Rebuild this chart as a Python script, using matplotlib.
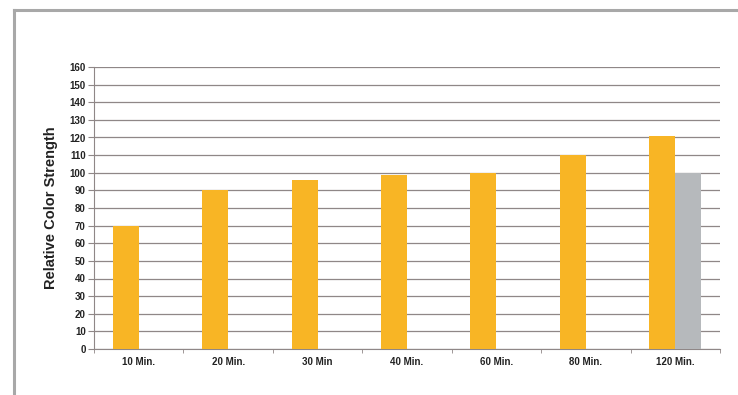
import matplotlib.pyplot as plt
from matplotlib.lines import Line2D
import numpy as np

plt.rcParams['font.family'] = ['Liberation Sans', 'DejaVu Sans']

categories = ["10 Min.", "20 Min.", "30 Min", "40 Min.", "60 Min.", "80 Min.", "120 Min."]
orange_vals = [70, 90, 96, 99, 100, 110, 121]
gray_vals = [0, 0, 0, 0, 0, 0, 100]
y_ticks = list(range(0, 161, 10))

W, H = 738, 395
fig = plt.figure(figsize=(W / 100, H / 100), dpi=100)

# outer gray frame (top and left edges only visible)
fig.add_artist(Line2D([14 / W, 1], [1 - 10 / H, 1 - 10 / H], color="#a8a8a8", lw=2.2))
fig.add_artist(Line2D([14 / W, 14 / W], [0, 1 - 10 / H], color="#a8a8a8", lw=2.2))

ax = fig.add_axes([94 / W, 1 - 349 / H, (720 - 94) / W, (349 - 67) / H])

x = np.arange(len(categories))
bw = 0.29
ax.bar(x - bw / 2, orange_vals, bw, color="#f8b525", zorder=3)
ax.bar(x + bw / 2, gray_vals, bw, color="#b6b9bc", zorder=3)

ax.set_xlim(-0.5, len(categories) - 0.5)
ax.set_ylim(0, 160)
ax.set_yticks(y_ticks)
ax.yaxis.grid(True, color="#8f8787", lw=0.9, zorder=0)

for s in ["top", "right"]:
    ax.spines[s].set_visible(False)
ax.spines["left"].set_color("#8f8787")
ax.spines["bottom"].set_color("#8f8787")

ax.set_xticks(x)
ax.set_xticklabels(categories, fontsize=7, fontweight="bold", color="#222222")
ax.tick_params(axis="x", length=0, pad=6)
ax.set_xticks(np.arange(len(categories) + 1) - 0.5, minor=True)
ax.tick_params(axis="x", which="minor", length=3, color="#8f8787")
ax.tick_params(axis="y", length=4, color="#8f8787", labelsize=7, pad=2, labelcolor="#222222")
for lbl in ax.get_yticklabels():
    lbl.set_fontweight("bold")

ax.set_ylabel("Relative Color Strength", fontsize=10.5, fontweight="bold", color="#222222", labelpad=8)

fig.savefig("out.png", dpi=100)
